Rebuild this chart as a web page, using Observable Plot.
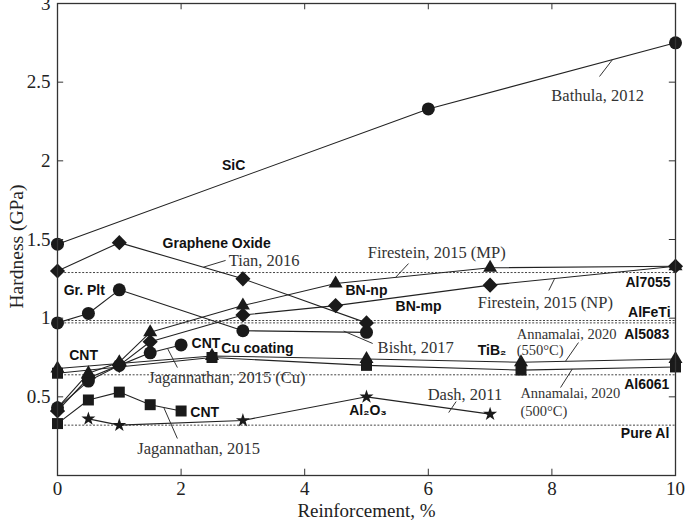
<!DOCTYPE html>
<html><head><meta charset="utf-8">
<script src="https://cdn.jsdelivr.net/npm/d3@7"></script>
<script src="https://cdn.jsdelivr.net/npm/@observablehq/plot@0.6"></script>
<style>body{margin:0;background:#fff}</style>
</head><body><div id="chart"></div>
<script>
// ---- tick labels ----
const xTicks = [0, 2, 4, 6, 8, 10];
const yTicks = [0.5, 1, 1.5, 2, 2.5, 3];
const yTickLabels = ["0.5", "1", "1.5", "2", "2.5", "3"];

// ---- series (x = reinforcement %, y = hardness GPa) ----
const sicX = [0, 6, 10],                 sicY = [1.47, 2.33, 2.75];
const goX = [0, 1, 3, 5],                goY = [1.30, 1.48, 1.25, 0.97];
const grX = [0, 0.5, 1, 3, 5],           grY = [0.97, 1.03, 1.18, 0.92, 0.91];
const bnnpX = [0, 0.5, 1, 1.5, 3, 4.5, 7, 10], bnnpY = [0.43, 0.65, 0.72, 0.91, 1.08, 1.22, 1.32, 1.33];
const bnmpX = [0, 0.5, 1, 1.5, 3, 4.5, 7, 10], bnmpY = [0.41, 0.62, 0.70, 0.85, 1.02, 1.08, 1.21, 1.33];
const cncuX = [0, 0.5, 1, 1.5, 2],       cncuY = [0.43, 0.60, 0.70, 0.78, 0.83];
const tib550X = [0, 2.5, 5, 7.5, 10],    tib550Y = [0.68, 0.76, 0.74, 0.72, 0.74];
const tib500X = [0, 2.5, 5, 7.5, 10],    tib500Y = [0.65, 0.75, 0.70, 0.67, 0.69];
const cntX = [0, 0.5, 1, 1.5, 2],        cntY = [0.33, 0.48, 0.53, 0.45, 0.41];
const aloX = [0.5, 1, 3, 5, 7],          aloY = [0.36, 0.32, 0.35, 0.50, 0.39];

// ---- reference alloys (dotted lines) ----
const refNames = ["Al7055", "AlFeTi", "Al5083", "Al6061", "Pure Al"];
const refValues = [1.29, 0.985, 0.97, 0.64, 0.32];

// ---- annotations ----
const boldLabels = [
  {t: "SiC", x: 2.85, y: 1.97, a: "middle"},
  {t: "Graphene Oxide", x: 1.70, y: 1.475, a: "start"},
  {t: "Gr. Plt", x: 0.10, y: 1.176, a: "start"},
  {t: "BN-np", x: 4.66, y: 1.176, a: "start"},
  {t: "BN-mp", x: 5.47, y: 1.074, a: "start"},
  {t: "Al7055", x: 9.92, y: 1.227, a: "end"},
  {t: "AlFeTi", x: 9.92, y: 1.036, a: "end"},
  {t: "Al5083", x: 9.90, y: 0.896, a: "end"},
  {t: "TiB\u2082", x: 6.80, y: 0.795, a: "start"},
  {t: "Al6061", x: 9.90, y: 0.578, a: "end"},
  {t: "Al\u2082O\u2083", x: 4.72, y: 0.413, a: "start"},
  {t: "Pure Al", x: 9.90, y: 0.267, a: "end"},
  {t: "CNT", x: 0.19, y: 0.763, a: "start"},
  {t: "CNT", x: 2.17, y: 0.839, a: "start"},
  {t: "Cu coating", x: 2.65, y: 0.807, a: "start"},
  {t: "CNT", x: 2.15, y: 0.40, a: "start"}
];
const serifLabels = [
  {t: "Bathula, 2012", x: 8.74, y: 2.415, a: "middle"},
  {t: "Tian, 2016", x: 2.77, y: 1.367, a: "start"},
  {t: "Firestein, 2015 (MP)", x: 5.02, y: 1.417, a: "start"},
  {t: "Firestein, 2015 (NP)", x: 6.80, y: 1.10, a: "start"},
  {t: "Bisht, 2017", x: 5.18, y: 0.814, a: "start"},
  {t: "Dash, 2011", x: 5.99, y: 0.515, a: "start"},
  {t: "Jagannathan, 2015 (Cu)", x: 1.47, y: 0.623, a: "start"},
  {t: "Jagannathan, 2015", x: 1.29, y: 0.172, a: "start"}
];
const smallSerifLabels = [
  {t: "Annamalai, 2020", x: 7.43, y: 0.896, a: "start"},
  {t: "(550\u00B0C)", x: 7.43, y: 0.795, a: "start"},
  {t: "Annamalai, 2020", x: 7.49, y: 0.521, a: "start"},
  {t: "(500\u00B0C)", x: 7.49, y: 0.407, a: "start"}
];
const leaders = [
  {x1: 8.98, y1: 2.643, x2: 8.77, y2: 2.536},
  {x1: 2.36, y1: 1.324, x2: 2.72, y2: 1.367},
  {x1: 5.68, y1: 1.347, x2: 5.47, y2: 1.259},
  {x1: 8.04, y1: 1.248, x2: 7.95, y2: 1.176},
  {x1: 4.63, y1: 0.918, x2: 5.10, y2: 0.839},
  {x1: 8.43, y1: 0.845, x2: 8.22, y2: 0.726},
  {x1: 8.33, y1: 0.677, x2: 8.14, y2: 0.559},
  {x1: 6.45, y1: 0.470, x2: 6.33, y2: 0.400},
  {x1: 1.78, y1: 0.808, x2: 1.94, y2: 0.686},
  {x1: 1.72, y1: 0.432, x2: 1.94, y2: 0.235}
];

const series = [
  {name: "SiC", symbol: "circle", x: sicX, y: sicY},
  {name: "GO", symbol: "diamond2", x: goX, y: goY},
  {name: "GrPlt", symbol: "circle", x: grX, y: grY},
  {name: "BNnp", symbol: "triangle", x: bnnpX, y: bnnpY},
  {name: "BNmp", symbol: "diamond2", x: bnmpX, y: bnmpY},
  {name: "CNTCu", symbol: "circle", x: cncuX, y: cncuY},
  {name: "TiB550", symbol: "triangle", x: tib550X, y: tib550Y},
  {name: "TiB500", symbol: "square", x: tib500X, y: tib500Y},
  {name: "CNT", symbol: "square", x: cntX, y: cntY},
  {name: "Al2O3", symbol: "star", x: aloX, y: aloY}
];
const rows = series.flatMap(s => s.x.map((x, i) => ({series: s.name, symbol: s.symbol, x, y: s.y[i]})));
const refs = refNames.map((n, i) => ({name: n, y: refValues[i]}));

const symR = {circle: 6.5, diamond2: 6.8, triangle: 5.2, square: 6.2, star: 4.4};
const ink = "#1a1a1a";
const anchors = ["start", "middle", "end"];

const labelMarks = (list, opts) => anchors.map(a =>
  Plot.text(list.filter(d => d.a === a), {x: "x", y: "y", text: "t", textAnchor: a, ...opts}));

const chart = Plot.plot({
  width: 685, height: 521,
  marginLeft: 57, marginRight: 10, marginTop: 3, marginBottom: 46,
  x: {domain: [0, 10]},
  y: {domain: [0, 3]},
  style: {background: "#fff", fontFamily: "Liberation Serif"},
  marks: [
    Plot.ruleY(refs, {y: "y", x1: 0, x2: 10, stroke: "#444", strokeWidth: 1, strokeDasharray: "2,1.6"}),
    Plot.line(rows, {x: "x", y: "y", z: "series", stroke: "#222", strokeWidth: 1.1}),
    ...Object.keys(symR).map(sym =>
      Plot.dot(rows.filter(d => d.symbol === sym), {x: "x", y: "y", symbol: sym, r: symR[sym], fill: ink, stroke: "none"})),
    Plot.link(leaders, {x1: "x1", y1: "y1", x2: "x2", y2: "y2", stroke: "#333", strokeWidth: 1}),
    ...labelMarks(boldLabels, {fontFamily: "Liberation Sans", fontWeight: "bold", fontSize: 14, fill: "#111"}),
    ...labelMarks(serifLabels, {fontFamily: "Liberation Serif", fontSize: 16.5, fill: "#333"}),
    ...labelMarks(smallSerifLabels, {fontFamily: "Liberation Serif", fontSize: 14.5, fill: "#333"}),
    // inward ticks on all four sides
    Plot.ruleX(xTicks, {x: d => d, y1: 0, y2: 0.04, stroke: "#333"}),
    Plot.ruleX(xTicks, {x: d => d, y1: 2.96, y2: 3, stroke: "#333"}),
    Plot.ruleY(yTicks, {y: d => d, x1: 0, x2: 0.1, stroke: "#333"}),
    Plot.ruleY(yTicks, {y: d => d, x1: 9.9, x2: 10, stroke: "#333"}),
    Plot.axisX(xTicks, {anchor: "bottom", tickSize: 0, tickPadding: 6, fontSize: 19, fontFamily: "Liberation Serif", label: null, color: "#222"}),
    Plot.axisY(yTicks, {anchor: "left", tickSize: 0, tickPadding: 7, fontSize: 19, fontFamily: "Liberation Serif", label: null, color: "#222",
      tickFormat: d => yTickLabels[yTicks.indexOf(d)]}),
    Plot.text(["Reinforcement, %"], {frameAnchor: "bottom", lineAnchor: "middle", textAnchor: "middle", dy: 35, fontSize: 19, fontFamily: "Liberation Serif", fill: "#222"}),
    Plot.text(["Hardness (GPa)"], {frameAnchor: "left", lineAnchor: "middle", textAnchor: "middle", dx: -41, dy: 7, rotate: -90, fontSize: 19.5, fontFamily: "Liberation Serif", fill: "#222"}),
    Plot.frame({stroke: "#333", strokeWidth: 1.3})
  ]
});
document.getElementById("chart").appendChild(chart);
</script>
</body></html>
